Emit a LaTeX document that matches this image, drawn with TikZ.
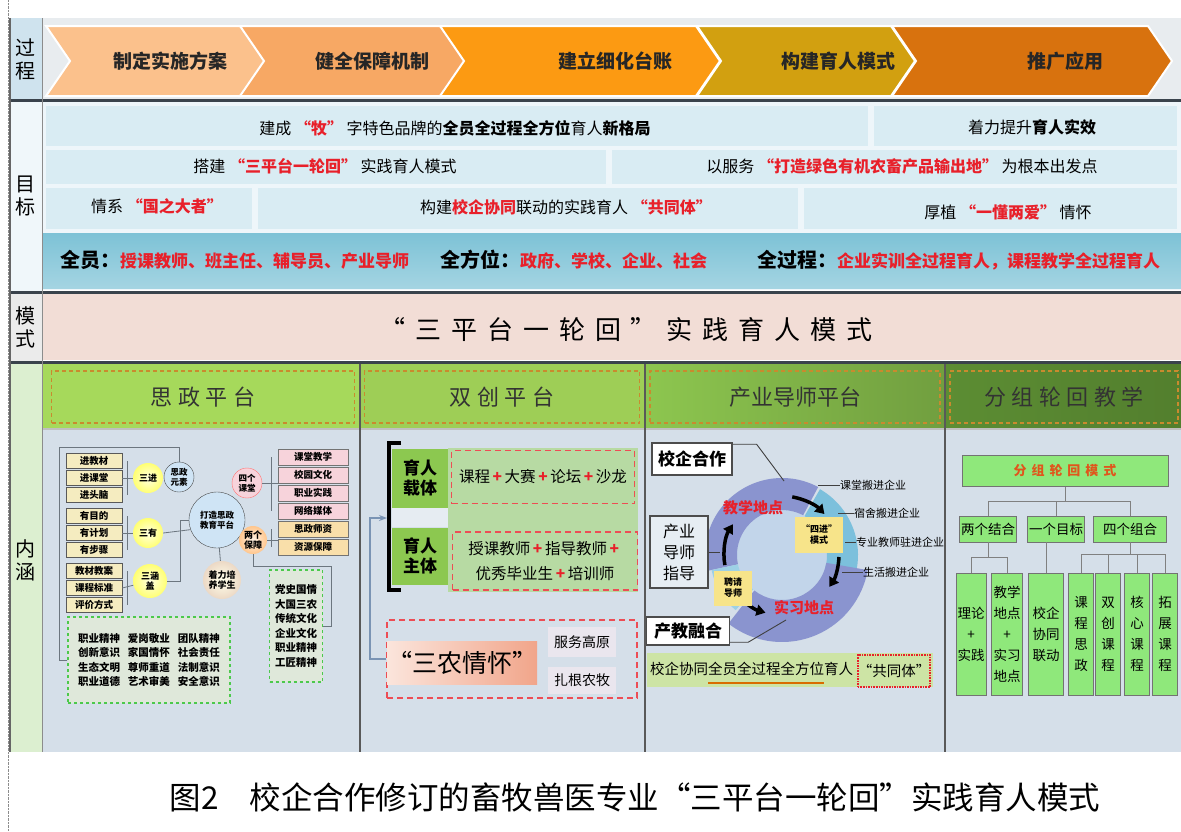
\documentclass[tikz,border=0pt]{standalone}
\usepackage{fontspec}
\setmainfont{Noto Sans CJK SC}
\newfontfamily\widefont[LetterSpace=38]{Noto Sans CJK SC}
\newfontfamily\headfont[LetterSpace=25]{Noto Sans CJK SC}
\usetikzlibrary{arrows.meta}

\definecolor{chevA}{HTML}{FBC18C}
\definecolor{chevB}{HTML}{F7A864}
\definecolor{chevC}{HTML}{FC9A12}
\definecolor{chevD}{HTML}{D2A010}
\definecolor{chevE}{HTML}{D8720E}
\definecolor{sideblue}{HTML}{CFE3EE}
\definecolor{sidegreen}{HTML}{DCEFD0}
\definecolor{topbg}{HTML}{E8ECEF}
\definecolor{goalbg}{HTML}{D9ECF3}
\definecolor{goalrow}{HTML}{7DC2D6}
\definecolor{modebg}{HTML}{F2DDD6}
\definecolor{bodybg}{HTML}{D5DFE9}
\definecolor{hdrA}{HTML}{A6D95B}
\definecolor{hdrB}{HTML}{8DC64F}
\definecolor{hdrC}{HTML}{5C8D33}
\definecolor{hdrdash}{HTML}{C98A2E}
\definecolor{ired}{HTML}{E8202A}
\definecolor{sepline}{HTML}{3A434C}
\definecolor{leafgreen}{HTML}{8FE87B}
\definecolor{ringpurple}{HTML}{8A94CF}
\definecolor{ringblue}{HTML}{7CC0DC}
\definecolor{ringinner}{HTML}{C2D5EA}
\definecolor{paleyellow}{HTML}{F7E48A}
\definecolor{tagbox}{HTML}{F5ECC0}
\definecolor{pinkbox}{HTML}{F7D3DB}
\definecolor{orangebox}{HTML}{F9DFAA}
\definecolor{linegray}{HTML}{6C767F}
\definecolor{carrgreen}{HTML}{8CC850}
\definecolor{bandgreen}{HTML}{B7DAA3}
\definecolor{bottomgreen}{HTML}{CDE4A5}
\definecolor{bubbleblue}{HTML}{CFE4F5}
\definecolor{greenbox}{HTML}{DFE8DA}
\definecolor{arrowblue}{HTML}{7A94B4}
\definecolor{salmonA}{HTML}{FBE5DC}
\definecolor{salmonB}{HTML}{F1A58A}
\definecolor{softgray}{HTML}{EAE6EE}
\definecolor{paneblue}{HTML}{E6EDF3}
\definecolor{fenzured}{HTML}{E0561C}

\newcommand{\redtxt}[1]{{\bfseries\color{ired}#1}}
\newcommand{\rplus}{\,{\color{ired}\bfseries +}\,}

\tikzset{
  sidetxt/.style={font=\fontsize{20}{23}\selectfont, align=center, inner sep=0pt},
  chevtxt/.style={font=\fontsize{19}{21}\selectfont\bfseries, text=black!85},
  goaltxt/.style={font=\fontsize{16}{18}\selectfont, inner sep=0pt},
  headbox/.style={draw=hdrdash, line width=1.6pt, dash pattern=on 4pt off 3pt, minimum height=52, inner sep=0pt, font=\headfont\fontsize{22}{24}\selectfont, text=black!80},
  tag/.style={draw=black!65, fill=tagbox, minimum width=56, minimum height=15, inner sep=0pt, font=\fontsize{9.5}{10}\selectfont\bfseries},
  glow/.style={circle, inner sep=0pt, inner color=yellow!12, outer color=yellow!55, align=center, font=\fontsize{9}{10}\selectfont\bfseries},
  bubble/.style={circle, draw=black!70, fill=bubbleblue, inner sep=0pt, align=center, font=\fontsize{8.5}{10}\selectfont\bfseries},
  sidebox/.style={draw=black!55, minimum width=70, minimum height=16, inner sep=0pt, font=\fontsize{9.5}{10}\selectfont\bfseries},
  valuebox/.style={draw=green!70!black!70, dashed, line width=1.2pt, fill=greenbox, align=center, inner sep=0pt, font=\fontsize{10.5}{14.5}\selectfont\bfseries},
  conn/.style={draw=linegray, line width=0.8pt},
  carrier/.style={fill=carrgreen, minimum width=56, inner sep=0pt, align=center, font=\fontsize{17}{20}\selectfont\bfseries},
  redbox/.style={draw=ired!80, line width=1.8pt, dash pattern=on 6pt off 4pt, inner sep=0pt, align=center, font=\fontsize{15.5}{25}\selectfont},
  yellowbox/.style={fill=paleyellow, inner sep=0pt, align=center, font=\fontsize{9}{11}\selectfont\bfseries},
  whitebox/.style={draw=black!70, line width=1.2pt, fill=white, inner sep=0pt, font=\fontsize{17}{19}\selectfont\bfseries},
  anno/.style={anchor=west, inner sep=0pt, font=\fontsize{11}{12}\selectfont},
  leader/.style={draw=black!75, line width=0.9pt},
  leaf/.style={draw=black!55, fill=leafgreen, inner sep=0pt, align=center, font=\fontsize{13.5}{21}\selectfont},
  treeline/.style={draw=black!50, line width=1pt},
  ringarrow/.style={line width=3.5pt, -{Triangle[length=9pt,width=11pt]}}
}

\begin{document}
\begin{tikzpicture}[x=1pt, y=-1pt]
\useasboundingbox (0,0) rectangle (1181,831);
\fill[white] (0,0) rectangle (1181,831);
\draw[black!45, densely dotted] (8,0) -- (8,831);

\fill[sideblue] (10,18) rectangle (42,100);
\fill[goalbg!40!white] (10,100) rectangle (42,292);
\fill[black!8] (10,292) rectangle (42,362);
\fill[sidegreen] (10,362) rectangle (42,752);
\node[sidetxt] (sideA) at (26,59) {过\\程};
\node[sidetxt] (sideB) at (26,196) {目\\标};
\node[sidetxt] (sideC) at (26,327) {模\\式};
\node[sidetxt] (sideD) at (26,560) {内\\涵};

\fill[topbg] (42,18) rectangle (1181,100);
\foreach \a/\b/\c/\m/\t [count=\i] in {46/265/chevA/170/制定实施方案, 240/465/chevB/372/健全保障机制, 440/720/chevC/615/建立细化台账, 697/915/chevD/838/构建育人模式, 892/1172/chevE/1065/推广应用} {
  \filldraw[fill=\c, draw=white, line width=2pt] (\a,26) -- (\b-24,26) -- (\b,61) -- (\b-24,96) -- (\a,96) -- (\a+24,61) -- cycle;
  \node[chevtxt] (stage\i) at (\m,61) {\t};
}

\fill[goalbg!45!white] (42,102) rectangle (1181,290);
\foreach \a/\b/\c/\d in {46/868/106/146, 874/1177/106/146, 46/606/150/184, 612/1177/150/184, 46/252/188/229, 258/798/188/229, 804/1177/188/229}
  \fill[goalbg] (\a,\c) rectangle (\b,\d);
\shade[top color=goalrow, bottom color=goalrow!70!white] (42,233) rectangle (1181,288);
\node[goaltxt] (goalA) at (455,128) {建成 \redtxt{“牧”} 字特色品牌的\textbf{全员全过程全方位}育人\textbf{新格局}};
\node[goaltxt] (goalB) at (1032,127) {着力提升\textbf{育人实效}};
\node[goaltxt] (goalC) at (325,166) {搭建 \redtxt{“三平台一轮回”} 实践育人模式};
\node[goaltxt] (goalD) at (902,166) {以服务 \redtxt{“打造绿色有机农畜产品输出地”} 为根本出发点};
\node[goaltxt] (goalE) at (157,206) {情系 \redtxt{“国之大者”}};
\node[goaltxt] (goalF) at (566,207) {构建\redtxt{校企协同}联动的实践育人 \redtxt{“共同体”}};
\node[goaltxt] (goalG) at (1008,212) {厚植 \redtxt{“一懂两爱”} 情怀};
\node[goaltxt, anchor=west, font=\fontsize{17}{19}\selectfont] (allA) at (60,260) {{\fontsize{20}{22}\selectfont\bfseries 全员：}\redtxt{授课教师、班主任、辅导员、产业导师}};
\node[goaltxt, anchor=west, font=\fontsize{17}{19}\selectfont] (allB) at (440,260) {{\fontsize{20}{22}\selectfont\bfseries 全方位：}\redtxt{政府、学校、企业、社会}};
\node[goaltxt, anchor=west, font=\fontsize{17}{19}\selectfont] (allC) at (757,260) {{\fontsize{20}{22}\selectfont\bfseries 全过程：}\redtxt{企业实训全过程育人，课程教学全过程育人}};

\fill[modebg] (42,294) rectangle (1181,360);
\node[font=\widefont\fontsize{26}{28}\selectfont] (mode) at (626,330) {“三平台一轮回”实践育人模式};

\fill[hdrA] (42,364) rectangle (360,429);
\fill[hdrA!95!black] (360,364) rectangle (645,429);
\shade[left color=hdrB, right color=hdrB!80!black] (645,364) rectangle (945,429);
\shade[left color=hdrC, right color=hdrC!90!black] (945,364) rectangle (1181,429);
\fill[bodybg] (42,429) rectangle (1181,752);
\draw[black!25, line width=2pt] (42,429) -- (1181,429);
\foreach \y in {100,292,362} \draw[sepline, line width=3pt] (10,\y) -- (1181,\y);
\foreach \x in {360,645,945} \draw[black!65, line width=1.2pt] (\x,364) -- (\x,752);
\draw[black!60, line width=1.2pt] (10,18) -- (10,752);
\draw[black!45] (42,18) -- (42,752);

\node[headbox, minimum width=303] (headA) at (203,397) {思政平台};
\node[headbox, minimum width=275] (headB) at (502,397) {双创平台};
\node[headbox, minimum width=290, font=\fontsize{22}{24}\selectfont] (headC) at (795,397) {产业导师平台};
\node[headbox, minimum width=228] (headD) at (1064,397) {分组轮回教学};

\foreach \t/\y [count=\i] in {进教材/461, 进课堂/478, 进头脑/495, 有目的/516, 有计划/533, 有步骤/550, 教材教案/571, 课程标准/588, 评价方式/605}
  \node[tag] (t\i) at (94,\y) {\t};
\node[glow, minimum size=30] (jin) at (148,478) {三进};
\node[glow, minimum size=30] (you) at (148,533) {三有};
\node[glow, minimum size=34] (han) at (150,581) {三涵\\盖};
\node[bubble, minimum size=30] (yuansu) at (179,477) {思政\\元素};
\node[bubble, minimum size=56] (pingtai) at (217,520) {打造思政\\教育平台};
\node[bubble, fill=pinkbox, draw=pink!60!red, minimum size=30] (ketang) at (247,483) {四个\\课堂};
\node[glow, inner color=orange!10, outer color=orange!45, minimum size=28] (baozhang) at (253,540) {两个\\保障};
\node[glow, inner color=yellow!8, outer color=brown!30, minimum size=38] (peiyang) at (222,580) {着力培\\养学生};
\foreach \t/\y/\c [count=\i] in {课堂教学/457/pinkbox, 校园文化/475/pinkbox, 职业实践/493/pinkbox, 网络媒体/511/pinkbox, 思政师资/529/orangebox, 资源保障/547/orangebox}
  \node[sidebox, fill=\c] (k\i) at (313,\y) {\t};
\node[valuebox, minimum width=53, minimum height=112] (gboxA) at (296,626) {党史国情\\大国三农\\传统文化\\企业文化\\职业精神\\工匠精神};
\node[valuebox, minimum width=162, minimum height=86] (gboxB) at (149,660) {职业精神\hspace{8pt}爱岗敬业\hspace{8pt}团队精神\\创新意识\hspace{8pt}家国情怀\hspace{8pt}社会责任\\生态文明\hspace{8pt}尊师重道\hspace{8pt}法制意识\\职业道德\hspace{8pt}艺术审美\hspace{8pt}安全意识};

\foreach \a/\b/\c in {1/3/2, 4/6/5, 7/9/8}
  \draw[conn] ([xshift=5pt]t\a.east) -- ([xshift=5pt]t\b.east);
\draw[conn] (t2.east) -- (jin.west);
\draw[conn] (t5.east) -- (you.west);
\draw[conn] (t8.east) -- (han);
\draw[conn] (gboxB.west) -- ++(-8,0) |- ([yshift=14pt]yuansu.north) -- (yuansu.north);
\draw[conn] (you.east) -- (pingtai.200);
\draw[conn] (han.east) -- ++(13,0) |- (pingtai.west);
\draw[conn] (pingtai) -- (peiyang);
\draw[conn] ([xshift=-6pt]k1.west) -- ([xshift=-6pt]k4.west);
\draw[conn] (ketang.east) -- (ketang.east -| k1.west);
\draw[conn] ([xshift=-6pt]k5.west) -- ([xshift=-6pt]k6.west);
\draw[conn] (baozhang.east) -- (baozhang.east -| k5.west);
\draw[conn] (baozhang.south) -- ++(0,12) -| ([xshift=8pt]gboxA.east) -- (gboxA.east);

\fill[bandgreen] (448,448) rectangle (638,592);
\fill[bodybg!60!white] (392,507) rectangle (448,527);
\node[carrier, minimum height=59] (zaiti) at (420,478) {育人\\载体};
\node[carrier, minimum height=57] (zhuti) at (420,556) {育人\\主体};
\draw[line width=4pt] (401,443) -- (389,443) -- (389,590) -- (401,590);
\node[redbox, minimum width=183, minimum height=53] (kecheng) at (543,477) {课程\rplus 大赛\rplus 论坛\rplus 沙龙};
\node[redbox, minimum width=185, minimum height=58] (zhutibox) at (545,561) {授课教师\rplus 指导教师\rplus\\优秀毕业生\rplus 培训师};
\node[redbox, minimum width=250, minimum height=78] (sannongbox) at (512,659) {};
\node[left color=salmonA, right color=salmonB, minimum width=139, minimum height=43, inner sep=0pt, font=\fontsize{25}{27}\selectfont] (sannong) at (462,663) {“三农情怀”};
\node[fill=softgray, minimum width=68, minimum height=30, inner sep=0pt, font=\fontsize{14}{16}\selectfont] (gaoyuan) at (582,642) {服务高原};
\node[fill=softgray, minimum width=68, minimum height=27, inner sep=0pt, font=\fontsize{14}{16}\selectfont] (nongmu) at (582,680) {扎根农牧};
\coordinate (bracketmid) at (387,518);
\draw[-{Stealth[length=8pt]}, color=arrowblue, line width=1.3pt] (sannongbox.west) -- ++(-16,0) |- (bracketmid);

\begin{scope}[shift={(782,555)}, yscale=-1]
\fill[ringinner] (0,0) circle (45);
\fill[ringpurple] (192:45) arc (192:62:45) -- (62:77) arc (62:192:77) -- cycle;
\fill[ringblue] (60:45) arc (60:-16:45) -- (-16:76) arc (-16:60:76) -- cycle;
\fill[ringpurple] (-10:45) arc (-10:-128:45) -- (-128:87) arc (-128:-10:87) -- cycle;
\fill[ringblue!75!white] (-130:45) arc (-130:-168:45) -- (-168:72) arc (-168:-130:72) -- cycle;
\draw[ringarrow] (80:59) arc (80:44:59);
\draw[ringarrow] (-2:57) arc (-2:-34:57);
\draw[ringarrow] (-136:60) arc (-136:-106:60);
\draw[ringarrow] (190:58) arc (190:148:58);
\end{scope}
\node[font=\fontsize{15}{17}\selectfont\bfseries, text=ired] (jiaoxue) at (753,508) {教学地点};
\node[font=\fontsize{15}{17}\selectfont\bfseries, text=ired] (shixi) at (804,608) {实习地点};
\node[yellowbox, minimum width=48, minimum height=36] (sijin) at (819,535) {“四进”\\模式};
\node[yellowbox, minimum width=38, minimum height=35] (pinqing) at (733,588) {聘请\\导师};
\node[whitebox, fill=paneblue, minimum width=58, minimum height=72, align=center, font=\fontsize{16}{21}\selectfont] (daoshi) at (679,552) {产业\\导师\\指导};
\node[whitebox, minimum width=80, minimum height=32] (hezuo) at (692,459) {校企合作};
\node[whitebox, minimum width=83, minimum height=28] (ronghe) at (688,631) {产教融合};
\coordinate (ringtop) at (784,481);
\coordinate (ringbot) at (786,620);
\coordinate (ringleft) at (720,552);
\draw[leader] (hezuo.20) -- ++(24,0) -- (ringtop);
\draw[leader] (ronghe.-15) -- ++(18,0) -- (ringbot);
\draw[leader] (daoshi.east) -- (ringleft);
\foreach \t/\x/\y/\s [count=\i] in {课堂搬进企业/840/485/818, 宿舍搬进企业/854/513/838, 专业教师驻进企业/856/542/845, 生活搬进企业/863/572/842} {
  \node[anno] (anno\i) at (\x,\y) {\t};
  \coordinate (edge\i) at (\s,\y);
  \draw[leader] (edge\i) -- (anno\i.west);
}
\fill[bottomgreen] (647,653) rectangle (933,687);
\node[anchor=west, inner sep=0pt, font=\fontsize{14.5}{16}\selectfont] (xietong) at (650,669) {校企协同全员全过程全方位育人};
\draw[orange!85!black, line width=1.6pt] (708,683) -- (824,683);
\node[draw=ired, densely dotted, line width=1.6pt, minimum width=72, minimum height=32, inner sep=0pt, font=\fontsize{14.5}{16}\selectfont] (gongtong) at (894,671) {“共同体”};

\node[leaf, minimum width=206, minimum height=31, font=\widefont\fontsize{13}{14}\selectfont\bfseries, text=fenzured] (fenzu) at (1065,471) {分组轮回模式};
\foreach \n/\x/\w/\t in {liangge/988/57/两个结合, yige/1056/57/一个目标, sige/1130/73/四个组合}
  \node[leaf, minimum width=\w, minimum height=26] (\n) at (\x,529) {\t};
\foreach \x/\w/\t [count=\i] in {971/30/理论\\+\\实践, 1007/31/教学\\地点\\+\\实习\\地点, 1046/35/校企\\协同\\联动, 1081/25/课\\程\\思\\政, 1108/25/双\\创\\课\\程, 1137/25/核\\心\\课\\程, 1165/25/拓\\展\\课\\程}
  \node[leaf, minimum width=\w, minimum height=122] (leaf\i) at (\x,634) {\t};
\foreach \n in {liangge,yige,sige} \draw[treeline] (fenzu.south) -- ++(0,15) -| (\n.north);
\foreach \i in {1,2} \draw[treeline] (liangge.south) -- ++(0,15) -| (leaf\i.north);
\draw[treeline] (leaf3.north |- yige.south) -- (leaf3.north);
\foreach \i in {4,...,7} \draw[treeline] (sige.south) -- ++(0,12) -| (leaf\i.north);

\node[font=\fontsize{31.5}{33}\selectfont] (caption) at (635,797) {图2\quad 校企合作修订的畜牧兽医专业“三平台一轮回”实践育人模式};
\end{tikzpicture}
\end{document}
